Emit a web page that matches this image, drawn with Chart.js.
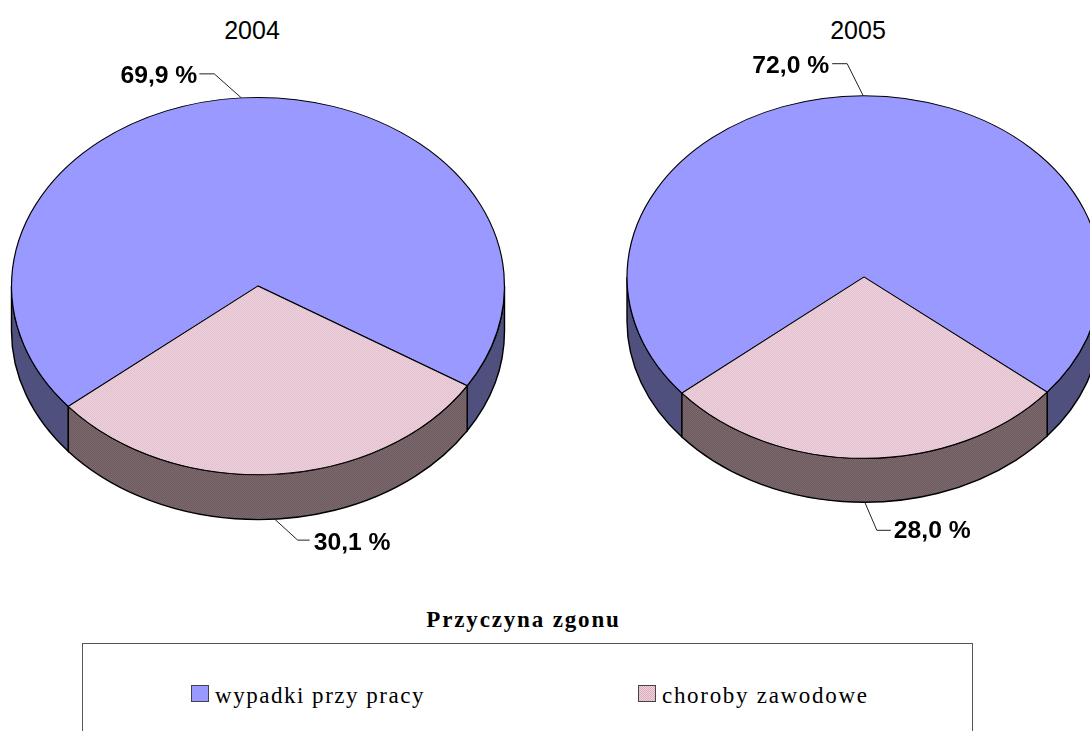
<!DOCTYPE html>
<html>
<head>
<meta charset="utf-8">
<script src="https://cdn.jsdelivr.net/npm/chart.js@4"></script>
<style>
  html, body { margin: 0; padding: 0; background: #fff; width: 1090px; height: 731px; overflow: hidden; }
  canvas { position: absolute; }
  .year { position: absolute; top: 16px; font: 25px "Liberation Sans", sans-serif; color: #000; transform: translateX(-50%); }
  #legendTitle { position: absolute; left: 523.5px; top: 607px; transform: translateX(-50%); font: bold 23px "Liberation Serif", serif; letter-spacing: 1.85px; white-space: nowrap; }
  #legendBox { position: absolute; left: 82px; top: 643px; width: 889px; height: 120px; border: 1px solid #555; }
  .item { position: absolute; top: 40px; font: 23px "Liberation Serif", serif; white-space: nowrap; line-height: 24px; }
  .item i { position: absolute; top: 1px; left: 0; width: 16px; height: 15px; border: 1px solid #444; }
</style>
</head>
<body>
<div class="year" style="left:252px">2004</div>
<div class="year" style="left:858px">2005</div>
<canvas id="pie2004" width="560" height="560" style="left:-22px;top:6px"></canvas>
<canvas id="pie2005" width="560" height="560" style="left:584px;top:-3px"></canvas>
<div id="legendTitle">Przyczyna zgonu</div>
<div id="legendBox"></div>
<script>
const categories = ["wypadki przy pracy", "choroby zawodowe"];
const values2004 = [69.9, 30.1];
const values2005 = [72.0, 28.0];

const SQUASH = 0.765;

function dotPattern(base, dot) {
  const c = document.createElement("canvas");
  c.width = 2;
  c.height = 2;
  const g = c.getContext("2d");
  g.fillStyle = base;
  g.fillRect(0, 0, 2, 2);
  g.fillStyle = dot;
  g.fillRect(0, 0, 1, 1);
  g.fillRect(1, 1, 1, 1);
  return g.createPattern(c, "repeat");
}

const blueFace = "#9999ff";
const blueSide = "#50507f";
const pinkSide = dotPattern("#7d6a6e", "#6c5a5f");
function pinkFace() {
  // undo the y squash so the dots stay square
  const p = dotPattern("#f0d6e0", "#e0bccb");
  p.setTransform(new DOMMatrix().scale(1, 1 / SQUASH));
  return p;
}

const pie3d = {
  id: "pie3d",
  beforeDatasetsDraw(chart, args, opts) {
    const ctx = chart.ctx;
    const arcs = chart.getDatasetMeta(0).data;
    const depth = opts.depth;
    arcs.forEach((arc, i) => {
      const rx = arc.outerRadius;
      const ry = rx * SQUASH;
      [-2, 0, 2].forEach((k) => {
        const s = Math.max(arc.startAngle, k * Math.PI);
        const e = Math.min(arc.endAngle, (k + 1) * Math.PI);
        if (s >= e) return;
        ctx.beginPath();
        ctx.ellipse(arc.x, arc.y, rx, ry, 0, s, e);
        ctx.ellipse(arc.x, arc.y + depth, rx, ry, 0, e, s, true);
        ctx.closePath();
        ctx.fillStyle = i === 0 ? blueSide : pinkSide;
        ctx.fill();
        ctx.strokeStyle = "#000";
        ctx.lineWidth = 1.4;
        ctx.stroke();
      });
    });
    ctx.save();
    const cy = arcs[0].y;
    ctx.translate(0, cy);
    ctx.scale(1, SQUASH);
    ctx.translate(0, -cy);
  },
  afterDatasetsDraw(chart, args, opts) {
    const ctx = chart.ctx;
    ctx.restore();
    const arcs = chart.getDatasetMeta(0).data;
    const values = chart.data.datasets[0].data;
    arcs.forEach((arc, i) => {
      // leader starts on the rim at the slice's middle angle
      const mid = (arc.startAngle + arc.endAngle) / 2;
      const px = arc.x + arc.outerRadius * Math.cos(mid);
      const front = Math.sin(mid) > 0;
      const py = arc.y + arc.outerRadius * SQUASH * Math.sin(mid) + (front ? opts.depth : 0);
      const l = opts.leaders[i];
      const bx = px + l.bend[0];
      const by = py + l.bend[1];
      const ex = bx + l.run;
      ctx.beginPath();
      ctx.moveTo(px, py);
      ctx.lineTo(bx, by);
      ctx.lineTo(ex, by);
      ctx.strokeStyle = "#222";
      ctx.lineWidth = 1;
      ctx.stroke();
      ctx.font = 'bold 24.7px "Liberation Sans", sans-serif';
      ctx.fillStyle = "#000";
      ctx.textBaseline = "alphabetic";
      ctx.textAlign = l.run < 0 ? "right" : "left";
      const label = values[i].toFixed(1).replace(".", ",") + " %";
      ctx.fillText(label, ex + (l.run < 0 ? -2 : 3) + l.nudge[0], by + 9.5 + l.nudge[1]);
    });
  },
};

function makePie(id, values, radius, rotation, depth, leaders) {
  return new Chart(document.getElementById(id), {
    type: "pie",
    data: {
      labels: categories,
      datasets: [{
        data: values,
        backgroundColor: [blueFace, pinkFace()],
        borderColor: "#000",
        borderWidth: 1.2,
        borderAlign: "center",
      }],
    },
    options: {
      responsive: false,
      animation: false,
      rotation,
      radius,
      events: [],
      plugins: {
        legend: { display: false },
        title: { display: false },
        tooltip: { enabled: false },
        pie3d: { depth, leaders },
      },
    },
    plugins: [pie3d],
  });
}

makePie("pie2004", values2004, 246.5, 230.3, 45, [
  { bend: [-27, -24], run: -15, nudge: [0, 0] },
  { bend: [23, 21], run: 12, nudge: [1, 0] },
]);
makePie("pie2005", values2005, 237, 230.2, 44, [
  { bend: [-16, -32], run: -15, nudge: [-1, 0] },
  { bend: [12, 28], run: 14, nudge: [0, -1.5] },
]);

const legendBox = document.getElementById("legendBox");
const itemLeft = [108, 555];
const itemPad = [24, 24];
const itemSpacing = ["1.52px", "1.7px"];
const swatches = [
  blueFace,
  "repeating-conic-gradient(#d9aebc 0 25%, #efd2dc 0 50%) 0 0/2px 2px",
];
categories.forEach((name, i) => {
  const el = document.createElement("div");
  el.className = "item";
  el.style.left = itemLeft[i] + "px";
  el.style.paddingLeft = itemPad[i] + "px";
  el.style.letterSpacing = itemSpacing[i];
  el.innerHTML = `<i style="background:${swatches[i]}"></i>${name}`;
  legendBox.appendChild(el);
});
</script>
</body>
</html>
